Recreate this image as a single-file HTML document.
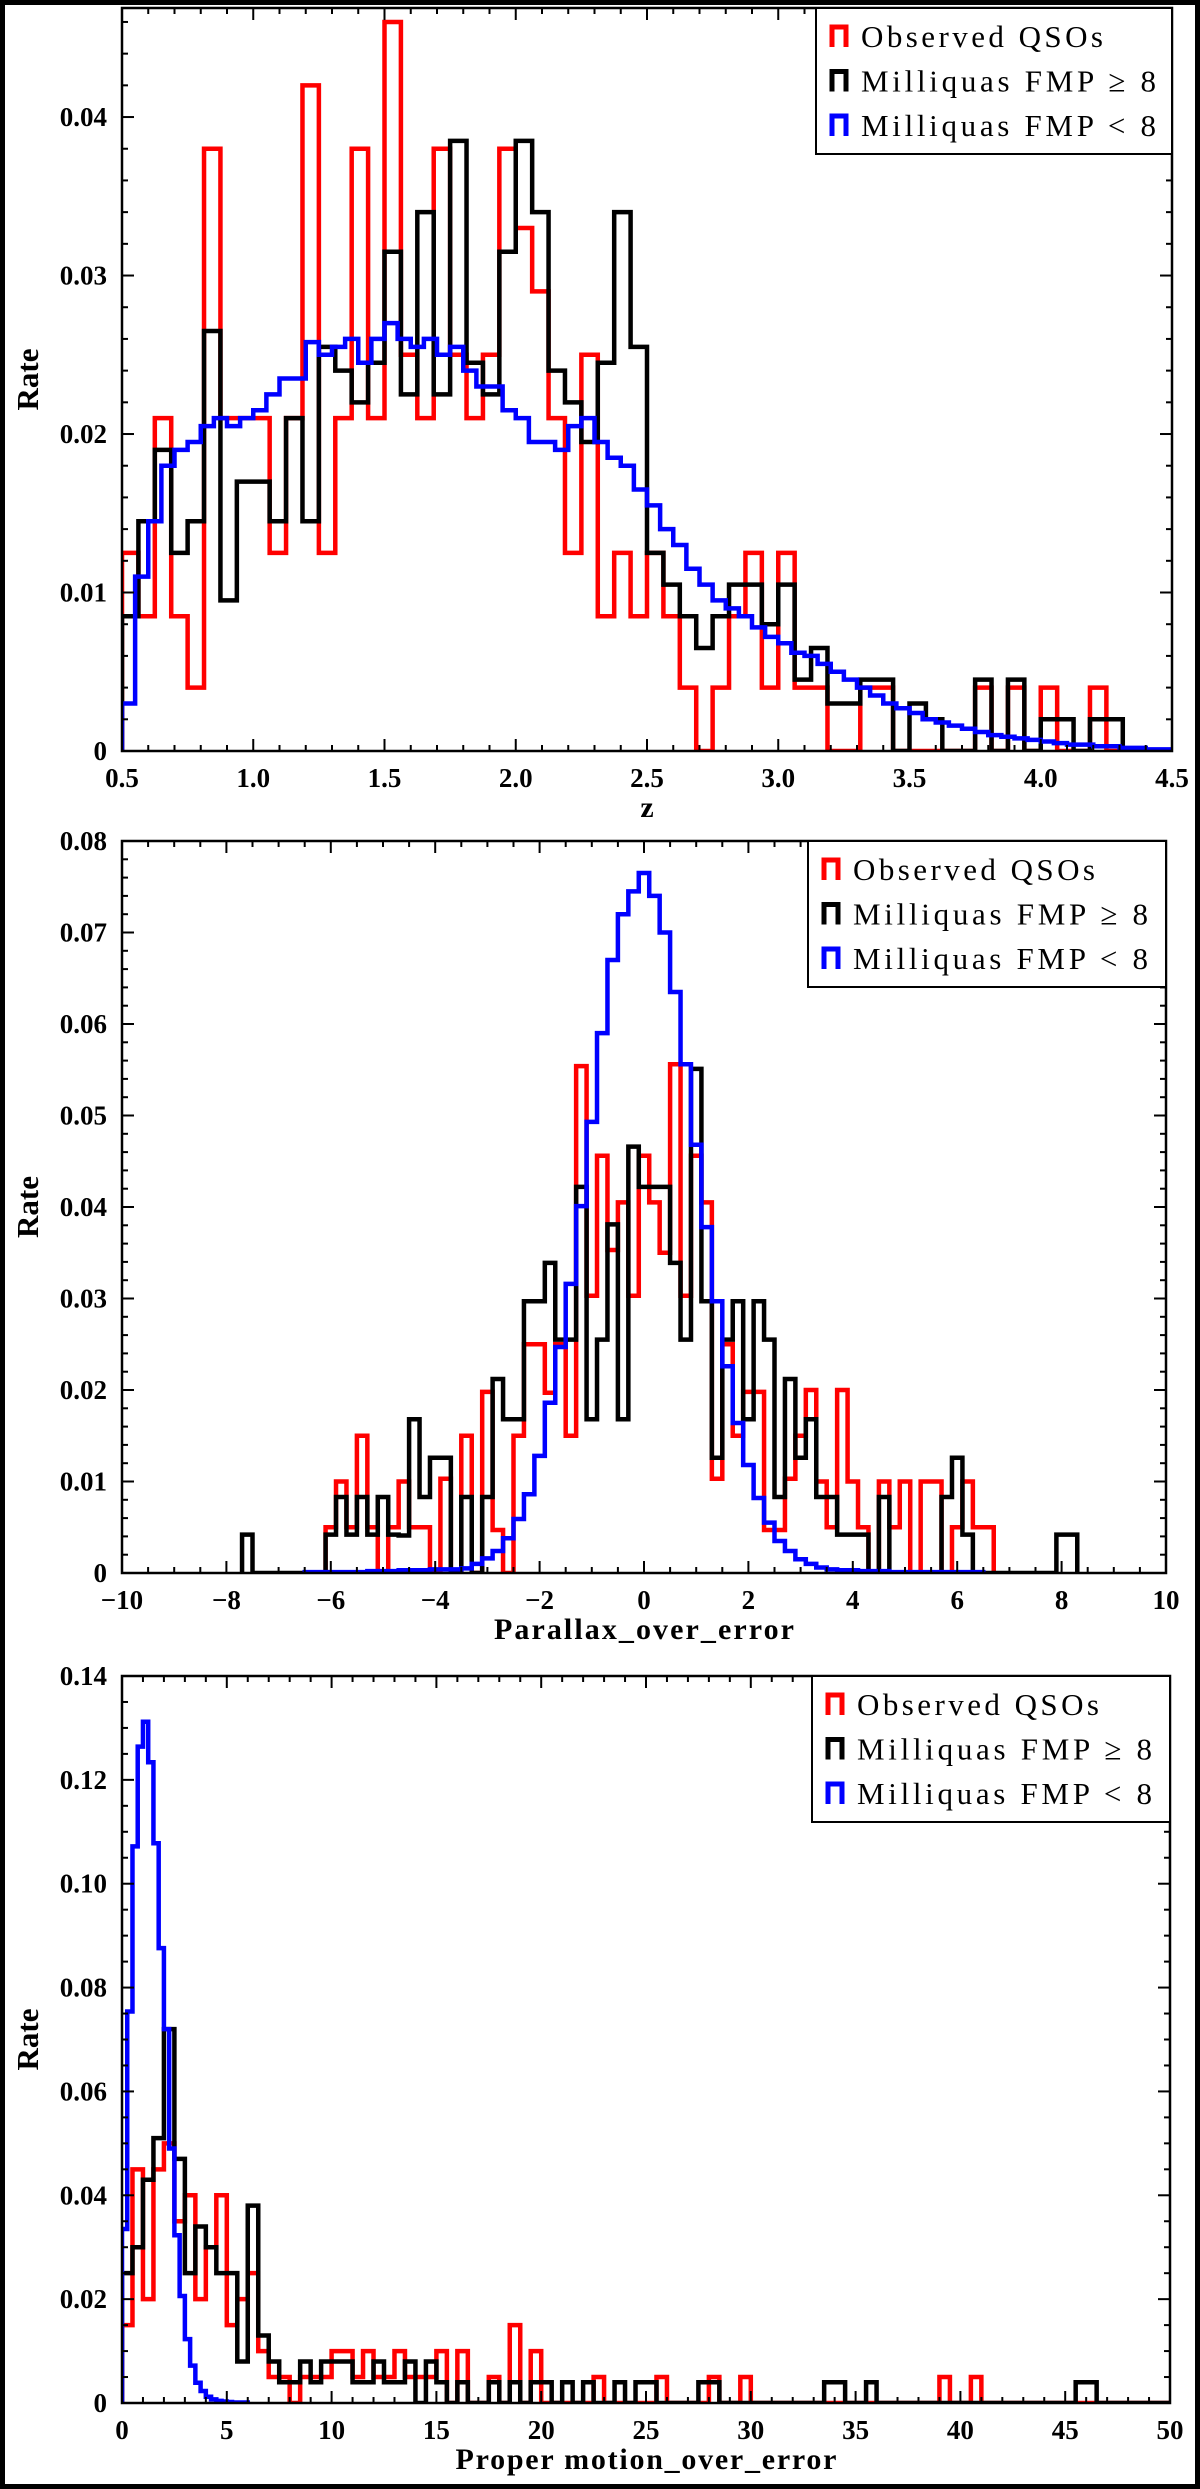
<!DOCTYPE html>
<html><head><meta charset="utf-8"><title>QSO histograms</title>
<style>
html,body{margin:0;padding:0;background:#fff;}
svg{display:block;}
text{font-family:"Liberation Serif",serif;}
.tick{font-weight:bold;font-size:27px;fill:#000;}
</style></head>
<body>
<svg id="fig" width="1200" height="2489" viewBox="0 0 1200 2489" xmlns="http://www.w3.org/2000/svg">
<rect x="2.5" y="2.5" width="1195" height="2484" fill="#fff" stroke="#000" stroke-width="5"/>
</svg>
<script>
// ---------- Panel 1: redshift z ----------
const zStart = 0.5;
const zBinW = 0.0625;
const zRed = [0.0125,0.0085,0.021,0.0085,0.004,0.038,0.021,0.021,
  0.021,0.0125,0.021,0.042,0.0125,0.021,0.038,0.021,
  0.046,0.025,0.021,0.038,0.025,0.021,0.025,0.038,
  0.033,0.029,0.021,0.0125,0.025,0.0085,0.0125,0.0085,
  0.0125,0.0085,0.004,0,0.004,0.0085,0.0125,0.004,
  0.0125,0.004,0.004,0,0,0.004,0.004,0,
  0,0,0,0,0.004,0,0.004,0,
  0.004,0,0,0.004,0,0,0,0];
const zBlack = [0.0085,0.0145,0.019,0.0125,0.0145,0.0265,0.0095,0.017,
  0.017,0.0145,0.021,0.0145,0.0255,0.024,0.022,0.0245,
  0.0315,0.0225,0.034,0.0225,0.0385,0.0245,0.0225,0.0315,
  0.0385,0.034,0.024,0.022,0.0195,0.0245,0.034,0.0255,
  0.0125,0.0105,0.0085,0.0065,0.0085,0.0105,0.0105,0.008,
  0.0105,0.0045,0.0065,0.003,0.003,0.0045,0.0045,0,
  0.003,0.002,0,0,0.0045,0,0.0045,0,
  0.002,0.002,0,0.002,0.002,0,0,0];
const zBlueStart = 0.5;
const zBlueW = 0.05;
const zBlue = [0.003,0.011,0.0145,0.018,0.019,0.0195,0.0205,0.021,0.0205,0.021,
  0.0215,0.0225,0.0235,0.0235,0.0258,0.025,0.0255,0.026,0.0245,0.026,
  0.027,0.026,0.0255,0.026,0.025,0.0255,0.024,0.023,0.023,0.0215,
  0.021,0.0195,0.0195,0.019,0.0205,0.021,0.0195,0.0185,0.018,0.0165,
  0.0155,0.014,0.013,0.0115,0.0105,0.0095,0.009,0.0085,0.0078,0.0072,
  0.0068,0.0062,0.006,0.0055,0.005,0.0045,0.004,0.0035,0.003,0.0027,
  0.0024,0.002,0.0018,0.0016,0.0014,0.0012,0.001,0.0009,0.0008,0.0007,
  0.0006,0.0005,0.0004,0.0004,0.0003,0.0003,0.0002,0.0002,0.0001,0.0001];
const zXTicks = ["0.5","1.0","1.5","2.0","2.5","3.0","3.5","4.0","4.5"];
const zYTicks = ["0","0.01","0.02","0.03","0.04"];

// ---------- Panel 2: parallax over error ----------
const plxRedStart = -6.1;
const plxBinW = 0.2;
const plxRed = [0.005,0.01,0.005,0.015,0.005,0,0.005,0.01,0.005,0.005,0,0.0103,0,0.015,0,0.0198,0.0047,0,
  0.015,0.025,0.025,0.0197,0.025,0.015,0.0554,0.0303,0.0456,0.0353,0.0405,0.0303,0.0456,0.0405,0.035,0.0556,
  0.0303,0.0456,0.0405,0.0103,0.025,0.015,0.0198,0.0198,0.0047,0.0047,0.0103,0.015,0.02,0.01,0.005,0.02,0.01,
  0.005,0,0.01,0.005,0.01,0,0.01,0.01,0,0.005,0.01,0.005,0.005];
const plxBlackStart = -7.7;
const plxBlack = [0.0042,0,0,0,0,0,0,0,0.0042,0.0083,0.0042,0.0083,0.0042,0.0083,0.0042,0.0041,0.0168,0.0083,
  0.0126,0.0126,0,0.0083,0,0.0083,0.0212,0.0168,0.0168,0.0297,0.0297,0.0339,0.0255,0.0255,0.0422,0.0168,0.0255,
  0.0381,0.0168,0.0466,0.0422,0.0422,0.0422,0.0339,0.0255,0.0551,0.0297,0.0126,0.0255,0.0297,0.0168,0.0297,
  0.0255,0.0083,0.0212,0.0126,0.0168,0.0083,0.0083,0.0042,0.0042,0.0042,0,0.0083,0,0,0,0,0,0.0083,0.0126,
  0.0042,0,0,0,0,0,0,0,0,0.0042,0.0042];
const plxBlueStart = -6.5;
const plxBlue = [0.0001,0.0001,0.0001,0.0001,0.0001,0.0001,0.0002,0.0002,0.0002,0.0003,0.0003,0.0003,0.0004,0.0004,0.0004,
  0.0005,0.001,0.0016,0.0024,0.0038,0.0059,0.0086,0.0128,0.0186,0.0247,0.0316,0.0401,0.0493,0.059,0.067,0.072,0.0745,
  0.0765,0.074,0.07,0.0635,0.0556,0.0468,0.0378,0.0297,0.0226,0.0164,0.0118,0.0082,0.0055,0.0035,0.0024,0.0015,0.001,
  0.0006,0.0004,0.0003,0.0003,0.0002,0.0002,0.0002,0.0001,0.0001,0.0001,0.0001,0.0001,0.0001,0.0001,0.0001,0.0001];
const plxXTicks = ["\u221210","\u22128","\u22126","\u22124","\u22122","0","2","4","6","8","10"];
const plxYTicks = ["0","0.01","0.02","0.03","0.04","0.05","0.06","0.07","0.08"];

// ---------- Panel 3: proper motion over error ----------
const pmStart = 0;
const pmBinW = 0.5;
const pmRed = [0.015,0.045,0.02,0.045,0.05,0.035,0.04,0.02,0.03,0.04,0.015,0.02,0.025,0.01,0.005,0.005,0,0.005,0.005,0.005,
  0.01,0.01,0.005,0.01,0.005,0.005,0.01,0.005,0.005,0.005,0.01,0,0.01,0,0,0.005,0,0.015,0,0.01,
  0,0,0,0,0,0.005,0,0,0,0,0,0.005,0,0,0,0,0.005,0,0,0.005,
  0,0,0,0,0,0,0,0,0,0,0,0,0,0,0,0,0,0,0.005,0,
  0,0.005,0,0,0,0,0,0,0,0,0,0,0,0,0,0,0,0,0,0];
const pmBlack = [0.025,0.03,0.043,0.051,0.072,0.047,0.025,0.034,0.03,0.025,0.025,0.008,0.038,0.013,0.008,0.004,0.004,0.008,0.004,0.008,
  0.008,0.008,0.004,0.004,0.008,0.004,0.004,0.008,0,0.008,0.004,0,0.004,0,0,0.004,0,0.004,0,0.004,
  0.004,0,0.004,0,0.004,0,0,0.004,0,0.004,0.004,0,0,0,0,0.004,0.004,0,0,0,
  0,0,0,0,0,0,0,0.004,0.004,0,0,0.004,0,0,0,0,0,0,0,0,
  0,0,0,0,0,0,0,0,0,0,0,0.004,0.004,0,0,0,0,0,0,0];
const pmBlueStart = 0;
const pmBlueW = 0.25;
const pmBlue = [0.0335,0.0754,0.1072,0.1264,0.1312,0.1234,0.1078,0.0876,0.072,0.049,0.0323,0.0206,0.0123,0.0072,0.0039,0.0023,
  0.0012,0.0007,0.0004,0.0003,0.0002,0.0001,0.0001,0.0001];
const pmXTicks = ["0","5","10","15","20","25","30","35","40","45","50"];
const pmYTicks = ["0","0.02","0.04","0.06","0.08","0.10","0.12","0.14"];

const legendLabels = ["Observed QSOs","Milliquas FMP \u2265 8","Milliquas FMP < 8"];
const NS = "http://www.w3.org/2000/svg";
const svg = document.getElementById('fig');
function mk(tag, attrs, parent){
  const e = document.createElementNS(NS, tag);
  for (const k in attrs) e.setAttribute(k, attrs[k]);
  (parent||svg).appendChild(e);
  return e;
}

function panel(cfg, idx){
  const g = mk('g', {});
  
  
  const sx = v => cfg.L + (v - cfg.x0) / (cfg.x1 - cfg.x0) * (cfg.R - cfg.L);
  const sy = v => cfg.B - (v - 0) / (cfg.ymax) * (cfg.B - cfg.T);
  const cid = 'clip' + idx;
  const cp = mk('clipPath', {id: cid}, g);
  mk('rect', {x: cfg.L, y: cfg.T, width: cfg.R - cfg.L, height: cfg.B - cfg.T}, cp);
  const plot = mk('g', {'clip-path': 'url(#' + cid + ')'}, g);

  function hist(start, w, vals, color, nm){
    let d = '';
    const y0 = sy(0);
    for (let i = 0; i < vals.length; i++){
      const xa = sx(start + i * w), xb = sx(start + (i + 1) * w), yv = sy(vals[i]);
      if (i === 0) d += 'M' + xa + ',' + y0;
      d += 'L' + xa + ',' + yv + 'L' + xb + ',' + yv;
    }
    d += 'L' + sx(start + vals.length * w) + ',' + y0;
    const p = mk('path', {d: d, fill: 'none', stroke: color, 'stroke-width': 4.5, 'stroke-linejoin': 'miter'}, plot);
    
    
  }
  hist(cfg.redStart, cfg.redW, cfg.red, '#ff0000', 'observed-qsos-histogram');
  hist(cfg.blackStart, cfg.blackW, cfg.black, '#000000', 'milliquas-fmp-ge8-histogram');
  hist(cfg.blueStart, cfg.blueW, cfg.blue, '#0000ff', 'milliquas-fmp-lt8-histogram');

  const tk = mk('g', {stroke: '#000', 'stroke-width': 2}, g);
  
  
  const nx = Math.round((cfg.x1 - cfg.x0) / cfg.xMinor);
  for (let i = 0; i <= nx; i++){
    const v = cfg.x0 + i * cfg.xMinor;
    const major = (i % cfg.xMajorEvery) === 0;
    const len = major ? 12 : 6;
    const x = sx(v);
    mk('line', {x1: x, y1: cfg.B, x2: x, y2: cfg.B - len}, tk);
    mk('line', {x1: x, y1: cfg.T, x2: x, y2: cfg.T + len}, tk);
  }
  const ny = Math.round(cfg.ymax / cfg.yMinor + 1e-6);
  for (let i = 0; i <= ny; i++){
    const v = i * cfg.yMinor;
    const major = (i % cfg.yMajorEvery) === 0;
    const len = major ? 12 : 6;
    const y = sy(v);
    mk('line', {x1: cfg.L, y1: y, x2: cfg.L + len, y2: y}, tk);
    mk('line', {x1: cfg.R, y1: y, x2: cfg.R - len, y2: y}, tk);
  }
  cfg.xTicks.forEach((lab, i) => {
    const t = mk('text', {x: sx(cfg.x0 + i * cfg.xMinor * cfg.xMajorEvery), y: cfg.B + 36, 'text-anchor': 'middle', class: 'tick'}, g);
    t.textContent = lab;
    
    
  });
  cfg.yTicks.forEach((lab, i) => {
    const t = mk('text', {x: cfg.L - 15, y: sy(i * cfg.yMinor * cfg.yMajorEvery) + 9, 'text-anchor': 'end', class: 'tick'}, g);
    t.textContent = lab;
    
    
  });
  const fr = mk('rect', {x: cfg.L, y: cfg.T, width: cfg.R - cfg.L, height: cfg.B - cfg.T, fill: 'none', stroke: '#000', 'stroke-width': 2.5}, g);
  
  
  const xt = mk('text', {x: (cfg.L + cfg.R) / 2, y: cfg.B + 66, 'text-anchor': 'middle', 'font-size': 30, 'font-weight': 'bold'}, g);
  if (cfg.xTitleLen) xt.setAttribute('textLength', cfg.xTitleLen);
  xt.textContent = cfg.xTitle;
  
  
  const cy = (cfg.T + cfg.B) / 2;
  const yt = mk('text', {x: 0, y: 0, 'text-anchor': 'middle', 'font-size': 31, 'font-weight': 'bold', transform: 'translate(38,' + cy + ') rotate(-90)'}, g);
  yt.textContent = 'Rate';
  
  
  const lg = mk('g', {}, g);
  
  
  const lx = cfg.legL, ly = cfg.T;
  mk('rect', {x: lx, y: ly, width: cfg.R - lx, height: 146, fill: '#fff', stroke: '#000', 'stroke-width': 2}, lg);
  const cols = ['#ff0000', '#000000', '#0000ff'];
  legendLabels.forEach((lab, i) => {
    const yc = ly + 28 + i * 44.5;
    const e = mk('g', {}, lg);
    
    
    mk('path', {d: 'M' + (lx + 16) + ',' + (yc + 11) + 'V' + (yc - 9) + 'H' + (lx + 30) + 'V' + (yc + 11), fill: 'none', stroke: cols[i], 'stroke-width': 5}, e);
    const t = mk('text', {x: lx + 45, y: yc + 11, 'font-size': 31}, e);
    t.setAttribute('textLength', i === 0 ? 242 : 295);
    t.textContent = lab;
  });
}

panel({name: 'redshift-panel', L: 122, R: 1172, T: 8, B: 751, x0: 0.5, x1: 4.5, ymax: 0.04688,
  xMinor: 0.1, xMajorEvery: 5, yMinor: 0.002, yMajorEvery: 5,
  redStart: zStart, redW: zBinW, red: zRed, blackStart: zStart, blackW: zBinW, black: zBlack,
  blueStart: zBlueStart, blueW: zBlueW, blue: zBlue,
  xTicks: zXTicks, yTicks: zYTicks, xTitle: 'z', legL: 816}, 1);

panel({name: 'parallax-panel', L: 122, R: 1166, T: 841, B: 1573, x0: -10, x1: 10, ymax: 0.08,
  xMinor: 0.5, xMajorEvery: 4, yMinor: 0.002, yMajorEvery: 5,
  redStart: plxRedStart, redW: plxBinW, red: plxRed, blackStart: plxBlackStart, blackW: plxBinW, black: plxBlack,
  blueStart: plxBlueStart, blueW: plxBinW, blue: plxBlue,
  xTicks: plxXTicks, yTicks: plxYTicks, xTitle: 'Parallax_over_error', xTitleLen: 300, legL: 808}, 2);

panel({name: 'proper-motion-panel', L: 122, R: 1170, T: 1676, B: 2403, x0: 0, x1: 50, ymax: 0.14,
  xMinor: 1, xMajorEvery: 5, yMinor: 0.005, yMajorEvery: 4,
  redStart: pmStart, redW: pmBinW, red: pmRed, blackStart: pmStart, blackW: pmBinW, black: pmBlack,
  blueStart: pmBlueStart, blueW: pmBlueW, blue: pmBlue,
  xTicks: pmXTicks, yTicks: pmYTicks, xTitle: 'Proper motion_over_error', xTitleLen: 381, legL: 812}, 3);
</script>
</body></html>
